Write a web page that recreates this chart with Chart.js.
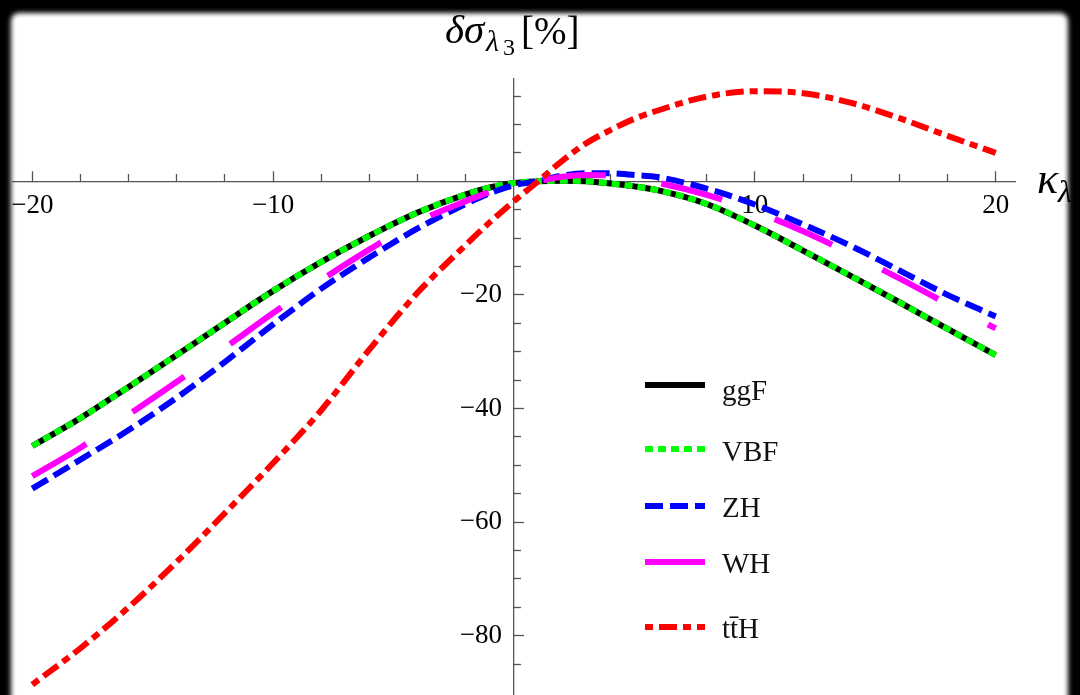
<!DOCTYPE html>
<html lang="en">
<head>
  <meta charset="UTF-8">
  <title>Relative change of single Higgs cross sections vs kappa lambda</title>
  <script src="https://cdn.jsdelivr.net/npm/chart.js"></script>
  <style>
    html, body {
      margin: 0;
      padding: 0;
      background: #000;
      overflow: hidden;
      width: 1080px;
      height: 695px;
    }
    #paper {
      position: absolute;
      left: 11px;
      top: 13px;
      width: 1057px;
      height: 760px;
      background: #fff;
      border-radius: 8px;
      filter: blur(2.5px);
    }
    #chart {
      position: absolute;
      left: 0;
      top: 0;
    }
  </style>
</head>
<body>
  <div id="paper"></div>
  <!-- a little taller than the window: the bottom label padding falls below the fold -->
  <canvas id="chart" width="1080" height="711"></canvas>

  <script>
    // values, kappa_lambda on x, delta sigma [%] on y
    const kappa = [-20, -18, -16, -14, -12, -10, -8, -6, -4, -2, -1, 0, 1, 2, 3, 4, 5, 6, 8, 10, 12, 14, 16, 18, 20];
    const ggF = [-46.6, -41.7, -36.2, -30.6, -24.9, -19.3, -14.2, -9.6, -5.5, -2.3, -1.1, -0.3, 0, 0.1, 0, -0.4, -0.9, -1.6, -4.0, -7.8, -12.2, -16.7, -21.3, -26.0, -30.6];
    const VBF = [-46.6, -41.7, -36.2, -30.6, -24.9, -19.3, -14.2, -9.6, -5.5, -2.3, -1.1, -0.3, 0, 0.1, 0, -0.4, -0.9, -1.6, -4.0, -7.8, -12.2, -16.7, -21.3, -26.0, -30.6];
    const ZH = [-54.1, -49.0, -43.8, -38.1, -31.8, -25.2, -18.9, -13.4, -8.3, -4.0, -2.1, -0.7, 0, 1.0, 1.4, 1.4, 1.1, 0.7, -1.3, -4.1, -7.6, -11.4, -15.7, -20.0, -23.8];
    const WH = [-51.9, -46.9, -41.1, -35.3, -29.3, -23.2, -17.4, -12.0, -7.1, -3.5, -1.9, -0.7, 0, 0.8, 1.1, 1.0, 0.4, -0.3, -2.4, -5.3, -8.8, -12.8, -17.1, -21.6, -25.9];
    const ttH = [-88.6, -82.2, -75.0, -67.0, -58.4, -49.6, -40.3, -29.6, -19.6, -11.2, -7.2, -3.5, 0, 3.6, 6.7, 9.0, 11.0, 12.5, 14.9, 15.85, 15.5, 13.8, 11.1, 8.0, 5.0];

    const seriesLabels = ['ggF', 'VBF', 'ZH', 'WH', 'tt\u0304H'];

    const xMajorTicks = [-20, -10, 10, 20];
    const xMinorTicks = [-18, -16, -14, -12, -8, -6, -4, -2, 2, 4, 6, 8, 12, 14, 16, 18];
    const yMajorTicks = [-80, -60, -40, -20];
    const yMinorTicks = [-85, -75, -70, -65, -55, -50, -45, -35, -30, -25, -15, -10, -5, 5, 10, 15];

    const X_MIN = -20.8, X_MAX = 20.8;
    const Y_MIN = -90.4, Y_MAX = 18;

    const serif = "'Liberation Serif', 'Times New Roman', serif";
    const axisColor = '#555';

    function pts(ys) {
      return kappa.map((k, i) => ({ x: k, y: ys[i] }));
    }

    function fixedTicks(list) {
      return function (axis) {
        axis.ticks = list.map(v => ({ value: v }));
      };
    }

    function minusLabel(v) {
      return (v < 0 ? '\u2212' : '') + Math.abs(v);
    }

    // scale that only draws tick marks (and optionally the axis line) through the origin
    function tickScale(axis, list, len, withBorder) {
      return {
        axis: axis,
        type: 'linear',
        min: axis === 'x' ? X_MIN : Y_MIN,
        max: axis === 'x' ? X_MAX : Y_MAX,
        position: axis === 'x' ? { y: 0 } : { x: 0 },
        afterBuildTicks: fixedTicks(list),
        border: { display: withBorder, color: axisColor, width: 1.3 },
        grid: { drawOnChartArea: false, drawTicks: true, tickLength: len, tickColor: axisColor, tickWidth: 1.3 },
        ticks: { display: false }
      };
    }

    function labelScale(axis, list, pos, pad) {
      return {
        axis: axis,
        type: 'linear',
        min: axis === 'x' ? X_MIN : Y_MIN,
        max: axis === 'x' ? X_MAX : Y_MAX,
        position: pos,
        afterBuildTicks: fixedTicks(list),
        border: { display: false },
        grid: { drawOnChartArea: false, drawTicks: false },
        ticks: {
          autoSkip: false,
          maxRotation: 0,
          padding: pad,
          color: '#000',
          font: { family: serif, size: 27 },
          callback: minusLabel
        }
      };
    }

    // axis titles drawn at the top and at the right end of the x axis
    const axisTitles = {
      id: 'axisTitles',
      afterDraw(chart) {
        const ctx = chart.ctx;
        ctx.save();
        ctx.fillStyle = '#000';
        ctx.textBaseline = 'alphabetic';
        ctx.textAlign = 'left';
        ctx.font = 'italic 41px ' + serif;
        ctx.fillText('\u03b4\u03c3', 445, 43);
        ctx.font = 'italic 30px ' + serif;
        ctx.fillText('\u03bb', 486, 51);
        ctx.font = '24px ' + serif;
        ctx.fillText('3', 503, 55);
        ctx.font = '39px ' + serif;
        ctx.fillText('[%]', 521, 44);

        ctx.font = 'italic 44px ' + serif;
        ctx.fillText('\u03ba', 1037, 193);
        ctx.font = 'italic 32px ' + serif;
        ctx.fillText('\u03bb', 1058, 202);
        ctx.restore();
      }
    };

    // legend inside the plot, rows at the reference positions
    const innerLegend = {
      id: 'innerLegend',
      afterDraw(chart, args, opts) {
        const ctx = chart.ctx;
        ctx.save();
        chart.data.datasets.forEach((ds, i) => {
          const y = opts.lineY[i];
          ctx.beginPath();
          ctx.setLineDash(ds.borderDash || []);
          ctx.lineDashOffset = 0;
          ctx.lineWidth = ds.borderWidth;
          ctx.strokeStyle = ds.borderColor;
          ctx.lineCap = 'butt';
          ctx.moveTo(opts.x0, y);
          ctx.lineTo(opts.x1, y);
          ctx.stroke();
          ctx.setLineDash([]);
          ctx.fillStyle = '#111';
          ctx.font = '29px ' + serif;
          ctx.textBaseline = 'alphabetic';
          ctx.textAlign = 'left';
          ctx.fillText(ds.label, opts.textX, opts.baseY[i]);
        });
        ctx.restore();
      }
    };

    const common = {
      fill: false,
      pointRadius: 0,
      borderWidth: 6,
      cubicInterpolationMode: 'monotone',
      xAxisID: 'x',
      yAxisID: 'y'
    };

    const ctx = document.getElementById('chart').getContext('2d');
    new Chart(ctx, {
      type: 'line',
      data: {
        datasets: [
          Object.assign({ label: seriesLabels[0], data: pts(ggF), borderColor: '#000000', borderDash: [], order: 5 }, common),
          Object.assign({ label: seriesLabels[1], data: pts(VBF), borderColor: '#00ff00', borderDash: [8, 5], order: 4 }, common),
          Object.assign({ label: seriesLabels[2], data: pts(ZH), borderColor: '#0000ff', borderDash: [18, 7], order: 3 }, common),
          Object.assign({ label: seriesLabels[3], data: pts(WH), borderColor: '#ff00ff', borderDash: [63, 56], order: 2 }, common),
          Object.assign({ label: seriesLabels[4], data: pts(ttH), borderColor: '#ff0000', borderDash: [8, 6, 18, 6], order: 1 }, common)
        ]
      },
      options: {
        responsive: false,
        animation: false,
        devicePixelRatio: 1,
        layout: { padding: { left: 13, right: 65, top: 79, bottom: 0 } },
        plugins: {
          legend: { display: false },
          tooltip: { enabled: false },
          innerLegend: {
            x0: 645,
            x1: 705,
            textX: 722,
            lineY: [385, 449, 506, 562, 627],
            baseY: [400, 461, 517, 573, 638]
          }
        },
        scales: {
          x: tickScale('x', xMajorTicks, -11, true),
          xMinor: tickScale('x', xMinorTicks, -7, false),
          xLab: labelScale('x', xMajorTicks, { y: 0 }, 8),
          y: tickScale('y', yMajorTicks, -11, true),
          yMinor: tickScale('y', yMinorTicks, -7, false),
          yLab: labelScale('y', yMajorTicks, { x: -0.5 }, 0)
        }
      },
      plugins: [axisTitles, innerLegend]
    });
  </script>
</body>
</html>
